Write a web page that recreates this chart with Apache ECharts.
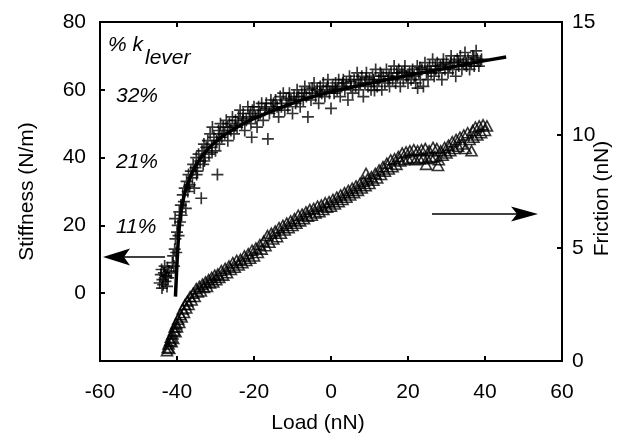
<!DOCTYPE html>
<html><head><meta charset="utf-8">
<script src="https://cdn.jsdelivr.net/npm/echarts@6/dist/echarts.min.js"></script>
<style>html,body{margin:0;padding:0;background:#fff}#c{width:633px;height:447px}</style>
</head><body><div id="c"></div>
<script>
// Load (nN) ticks
const xTicks = [-60, -40, -20, 0, 20, 40, 60];
const stiffTicks = [0, 20, 40, 60, 80];
const frictTicks = [0, 5, 10, 15];
// Stiffness (N/m) vs Load (nN), "+" markers
const stiffnessData = [
[-44.5,3],[-44.2,5.5],[-44,7],[-43.8,4],[-43.6,2.5],[-43.4,6],[-43.2,8],[-43,3.5],[-42.8,5],[-42.6,2],[-42.5,7.5],[-42.3,4.5],[-42.1,6.5],[-43.9,1.5],[-43.1,5.2],
[-41.5,6],[-41.2,9],[-41,11],[-40.8,8],[-40.6,13],[-40.4,16],[-40.2,12],[-40,18],[-39.8,20],[-40.5,22],[-39.6,17],[-39.4,24],[-39.2,21],[-39,26],[-38.8,23],
[-38.5,29],[-38.2,27],[-38,31],[-37.7,25],[-37.5,33],[-37.2,30],[-37,35],[-36.7,32],[-36.4,36],[-36,34],[-35.8,38],[-35.5,31],[-35.2,37],[-35,40],[-34.7,36],[-34.4,41],[-34,39],[-33.7,28],[-33.5,42],[-33.2,38],[-33,44],
[-32.7,40],[-32.4,43],[-32,45],[-31.7,41],[-31.4,47],[-31,43],[-30.8,49],[-30.4,46],[-30,42],[-29.7,45],[-29.5,35],[-29.2,48],[-29,44],[-28.7,50],[-28.4,46],[-28,49],[-27.6,47],[-27.2,51],[-26.8,45],[-26.4,50],[-26,48],[-25.6,52],[-25.2,47],[-24.8,51],
[-24.4,49],[-24,52],[-23.6,54],[-23.2,50],[-22.8,53],[-22.4,48],[-22,51],[-21.6,55],[-21.2,52],[-20.8,50],[-20.6,46],[-20.4,54],[-20,55],[-19.6,52],[-19.2,49],[-18.8,55],[-18.4,53],[-18,56],[-17.6,51],[-17.2,54],[-16.8,56],[-16.4,45.5],[-16,53],[-15.6,57],[-15.2,55],
[-14.8,54],[-14.4,57],[-14,55],[-13.6,52],[-13.2,58],[-12.8,56],[-12.4,59],[-12,54],[-11.6,57],[-11.2,55],[-10.8,59],[-10.4,57],[-10,53],[-9.6,58],[-9.2,56],[-8.8,60],[-8.4,58],[-8,55],[-7.6,59],[-7.2,57],[-6.8,61],[-6.4,58],[-6,52],[-5.6,60],[-5.2,57],[-4.8,59],[-4.4,62],[-4,58],[-3.6,60],[-3.2,56],[-2.8,61],[-2.4,59],[-2,62],[-1.6,58],[-1.2,60],[-0.8,63],[-0.4,59],[0,54.5],[0.4,61],
[0.8,59],[1.2,62],[1.6,60],[2,63],[2.4,58],[2.8,61],[3.2,63],[3.6,60],[4,62],[4.4,57],[4.8,64],[5.2,61],[5.6,59],[6,63],[6.4,61],[6.8,65],[7.2,60],[7.6,62],[8,64],[8.4,58],[8.8,62],[9.2,65],[9.6,61],[10,63],[10.4,60],[10.8,64],[11.2,62],[11.3,59.8],[11.6,66],[12,61],[12.4,63],[12.8,65],[13.2,60],[13.6,64],[14,62],[14.4,66],[14.8,63],[15.2,61],[15.6,65],[16,63],[16.4,67],[16.8,62],[17.2,64],[17.6,66],[18,61],[18.4,65],[18.8,63],[19.2,67],[19.6,64],[20,62],
[20.4,65],[20.8,63],[21.2,66],[21.6,64],[22,62],[22.4,67],[22.5,60.5],[22.8,65],[23.2,63],[23.6,66],[24,61],[24.4,68],[24.8,65],[25.2,63],[25.6,67],[26,65],[26.4,69],[26.8,64],[27.2,66],[27.6,68],[28,65],[28.4,67],[28.8,63],[29.2,69],[29.6,66],[30,68],[30.4,65],[30.8,67],[31.2,70],[31.6,66],[32,68],[32.4,64],[32.8,69],[33.2,67],[33.6,70],[34,66],[34.4,68],[34.8,71],[35.2,67],[35.6,69],[36,66],[36.4,68],[36.8,70],[37.2,67],[37.7,71.5],[38,69],[38.4,67],[38.8,68.5],
[-36.9,31.5],[-34.9,35],[-32.9,39],[-30.9,41.5],[-28.9,47],[-26.9,49],[-24.9,49.5],[-22.9,51.5],[-20.9,53],[-18.9,52.5],[-16.9,54.5],[-14.9,56],[-12.9,55],[-10.9,57.5],[-8.9,57],[-6.9,59],[-4.9,60.5],[-2.9,59.5],[-0.9,61],[1.1,60.5],[3.1,62],[5.1,62.5],[7.1,63],[9.1,63.5],[11.1,63],[13.1,64],[15.1,64],[17.1,65],[19.1,65.5],[21.1,65],[23.1,66.5],[25.1,66],[27.1,67],[29.1,67.5],[31.1,68],[33.1,68.5],[35.1,68],[37.1,69.5],[39.1,69]
];
// Fitted stiffness curve
const fitData = [
[-40.4,-1],[-40.2,4],[-40,9],[-39.7,15],[-39.3,21],[-38.7,26],[-38,29.5],[-37,33],[-36,35.8],[-34.5,38.8],[-33,41.2],[-31,43.7],[-29,45.6],[-27,47.2],[-25,48.6],[-22,50.5],[-19,52],[-16,53.4],[-12,55.2],[-8,56.9],[-4,58.2],[0,59.4],[5,60.7],[10,61.9],[15,63.1],[20,64.2],[25,65.3],[30,66.4],[35,67.5],[40,68.6],[45.5,69.7]
];
// Friction (nN) vs Load (nN), triangle markers
const frictionData = [
[-42.6,0.45],[-42.4,0.6],[-42.2,0.75],[-42,0.55],[-41.8,0.9],[-41.6,1.05],[-41.4,0.85],[-41.2,1.2],[-41,1.0],[-40.8,1.35],[-40.6,1.5],[-40.4,1.3],[-40.2,1.65],[-40,1.5],[-39.7,1.85],[-39.4,1.7],[-39.1,2.05],[-38.8,1.95],[-38.5,2.3],[-38.2,2.15],[-37.9,2.5],[-37.6,2.35],[-37.3,2.65],[-37,2.5],[-36.6,2.85],[-36.2,2.7],[-35.8,3.0],[-35.4,2.85],[-35,3.2],[-34.6,3.05],[-34.2,3.3],[-33.8,3.1],[-33.4,3.4],[-33,3.25],[-32.6,3.5],[-32.2,3.3],[-31.8,3.6],[-31.4,3.45],[-31,3.7],[-30.6,3.5],[-30.2,3.8],[-29.8,3.6],[-29.4,3.85],[-29,3.7],[-28.5,4.0],[-28,3.8],[-27.5,4.1],[-27,3.9],[-26.5,4.2],[-26,4.05],[-25.5,4.35],[-25,4.15],[-24.5,4.45],[-24,4.25],[-23.5,4.5],[-23,4.35],[-22.5,4.65],[-22,4.45],[-21.5,4.75],[-21,4.55],[-20.5,4.9],[-20,4.65],[-19.5,5.0],[-19,4.8],[-18.5,5.15],[-18,4.95],[-17.5,5.3],[-17,5.1],[-16.5,5.55],[-16,5.25],[-15.5,5.65],[-15,5.4],[-14.5,5.75],[-14,5.5],[-13.5,5.9],[-13,5.65],[-12.5,6.0],[-12,5.8],[-11.5,6.1],[-11,5.9],[-10.5,6.2],[-10,6.0],[-9.5,6.3],[-9,6.1],[-8.5,6.45],[-8,6.2],[-7.5,6.5],[-7,6.3],[-6.5,6.6],[-6,6.4],[-5.5,6.7],[-5,6.45],[-4.5,6.75],[-4,6.55],[-3.5,6.85],[-3,6.6],[-2.5,6.9],[-2,6.7],[-1.5,7.0],[-1,6.8],[-0.5,7.05],[0,6.85],[0.5,7.15],[1,6.95],[1.5,7.25],[2,7.05],[2.5,7.35],[3,7.15],[3.5,7.45],[4,7.25],[4.5,7.55],[5,7.35],[5.5,7.65],[6,7.45],[6.5,7.75],[7,7.55],[7.5,7.85],[8,7.65],[8.5,7.95],[9,7.75],[9.1,8.3],[9.5,8.05],[10,7.85],[10.5,8.15],[11,8.0],[11.5,8.3],[12,8.1],[12.5,8.45],[13,8.25],[13.5,8.6],[14,8.4],[14.5,8.75],[15,8.5],[15.5,8.9],[16,8.6],[16.5,8.95],[17,8.7],[17.5,9.05],[18,8.85],[18.5,9.2],[19,8.9],[19.5,9.25],[20,8.95],[20.5,9.3],[21,9.0],[21.5,9.35],[22,8.9],[22.5,9.3],[23,8.95],[23.5,9.35],[24,9.0],[24.5,9.4],[24.7,8.7],[25,8.95],[25.5,9.3],[26,9.0],[26.5,9.45],[27,9.05],[27.5,9.4],[27.8,8.65],[28,8.9],[28.5,9.3],[29,9.1],[29.5,9.45],[30,9.2],[30.5,9.55],[31,9.3],[31.5,9.7],[32,9.4],[32.5,9.8],[33,9.5],[33.5,9.9],[34,9.6],[34.5,10.0],[35,9.4],[35.5,10.1],[36,9.8],[36.5,9.3],[36.8,10.2],[37,9.9],[37.5,10.35],[38,10.0],[38.5,10.4],[39,10.1],[39.5,10.45],[40,10.2],[40.5,10.4]
];
const percentLabels = ['32%', '21%', '11%'];

const FONT = '"Liberation Sans", Arial, Helvetica, sans-serif';
const chart = echarts.init(document.getElementById('c'), null, {renderer: 'canvas'});
const plus = 'path://M4.3,0H5.7V4.3H10V5.7H5.7V10H4.3V5.7H0V4.3H4.3Z';
const axisLine = {show: true, onZero: false, lineStyle: {color: '#000', width: 2}};
const tickIn = {show: true, inside: true, length: 5, lineStyle: {color: '#000', width: 2}};
const lbl = {color: '#000', fontSize: 21, fontFamily: FONT};
chart.setOption({
  animation: false,
  backgroundColor: '#fff',
  grid: {left: 100, right: 71, top: 22, bottom: 86, show: true, borderColor: '#000', borderWidth: 2, backgroundColor: 'transparent'},
  xAxis: [
    {type: 'value', min: xTicks[0], max: xTicks[xTicks.length - 1], interval: 20, position: 'bottom',
     axisLine: axisLine, axisTick: tickIn, splitLine: {show: false},
     axisLabel: Object.assign({margin: 21}, lbl),
     name: 'Load (nN)', nameLocation: 'middle', nameGap: 52,
     nameTextStyle: {color: '#000', fontSize: 21, fontFamily: FONT, padding: [0, 26, 0, 0]}},
    {type: 'value', min: xTicks[0], max: xTicks[xTicks.length - 1], interval: 20, position: 'top',
     axisLine: axisLine, axisTick: tickIn, splitLine: {show: false}, axisLabel: {show: false}}
  ],
  yAxis: [
    {type: 'value', min: -20, max: stiffTicks[stiffTicks.length - 1], interval: 20, position: 'left',
     axisLine: axisLine, axisTick: tickIn, splitLine: {show: false},
     axisLabel: Object.assign({margin: 14, formatter: v => (stiffTicks.indexOf(v) >= 0 ? String(v) : '')}, lbl),
     name: 'Stiffness (N/m)', nameLocation: 'middle', nameGap: 62, nameRotate: 90,
     nameTextStyle: {color: '#000', fontSize: 21, fontFamily: FONT}},
    {type: 'value', min: frictTicks[0], max: frictTicks[frictTicks.length - 1], interval: 5, position: 'right',
     axisLine: axisLine, axisTick: tickIn, splitLine: {show: false},
     axisLabel: Object.assign({margin: 10}, lbl),
     name: 'Friction (nN)', nameLocation: 'middle', nameGap: 30, nameRotate: 90, nameMoveOverlap: false,
     nameTextStyle: {color: '#000', fontSize: 21, fontFamily: FONT, padding: [0, 14, 0, 0]}}
  ],
  series: [
    {type: 'scatter', name: 'Stiffness', xAxisIndex: 0, yAxisIndex: 0, data: stiffnessData,
     symbol: plus, symbolSize: 12, itemStyle: {color: '#000'}, z: 2},
    {type: 'scatter', name: 'Friction', xAxisIndex: 0, yAxisIndex: 1, data: frictionData,
     symbol: 'triangle', symbolSize: [11, 10], itemStyle: {color: 'rgba(0,0,0,0)', borderColor: '#000', borderWidth: 1.6}, z: 2},
    {type: 'line', name: 'Fit', xAxisIndex: 0, yAxisIndex: 0, data: fitData, showSymbol: false, symbol: 'none',
     lineStyle: {color: '#000', width: 3.5}, z: 3}
  ],
  graphic: [
    {type: 'text', x: 108, y: 45, style: {text: '% k', font: 'italic 21px ' + FONT, fill: '#000', verticalAlign: 'middle'}},
    {type: 'text', x: 145, y: 58, style: {text: 'lever', font: 'italic 21px ' + FONT, fill: '#000', verticalAlign: 'middle'}},
    {type: 'text', x: 116, y: 96, style: {text: percentLabels[0], font: 'italic 21px ' + FONT, fill: '#000', verticalAlign: 'middle'}},
    {type: 'text', x: 116, y: 162, style: {text: percentLabels[1], font: 'italic 21px ' + FONT, fill: '#000', verticalAlign: 'middle'}},
    {type: 'text', x: 116, y: 227, style: {text: percentLabels[2], font: 'italic 21px ' + FONT, fill: '#000', verticalAlign: 'middle'}},
    {type: 'line', shape: {x1: 122, y1: 257, x2: 165, y2: 257}, style: {stroke: '#000', lineWidth: 1.5}},
    {type: 'polygon', shape: {points: [[103, 257], [130, 248.5], [124, 257], [130, 265.5]]}, style: {fill: '#000'}},
    {type: 'line', shape: {x1: 432, y1: 214, x2: 520, y2: 214}, style: {stroke: '#000', lineWidth: 1.5}},
    {type: 'polygon', shape: {points: [[538, 214], [511, 206.5], [517, 214], [511, 221.5]]}, style: {fill: '#000'}}
  ]
});
</script></body></html>
